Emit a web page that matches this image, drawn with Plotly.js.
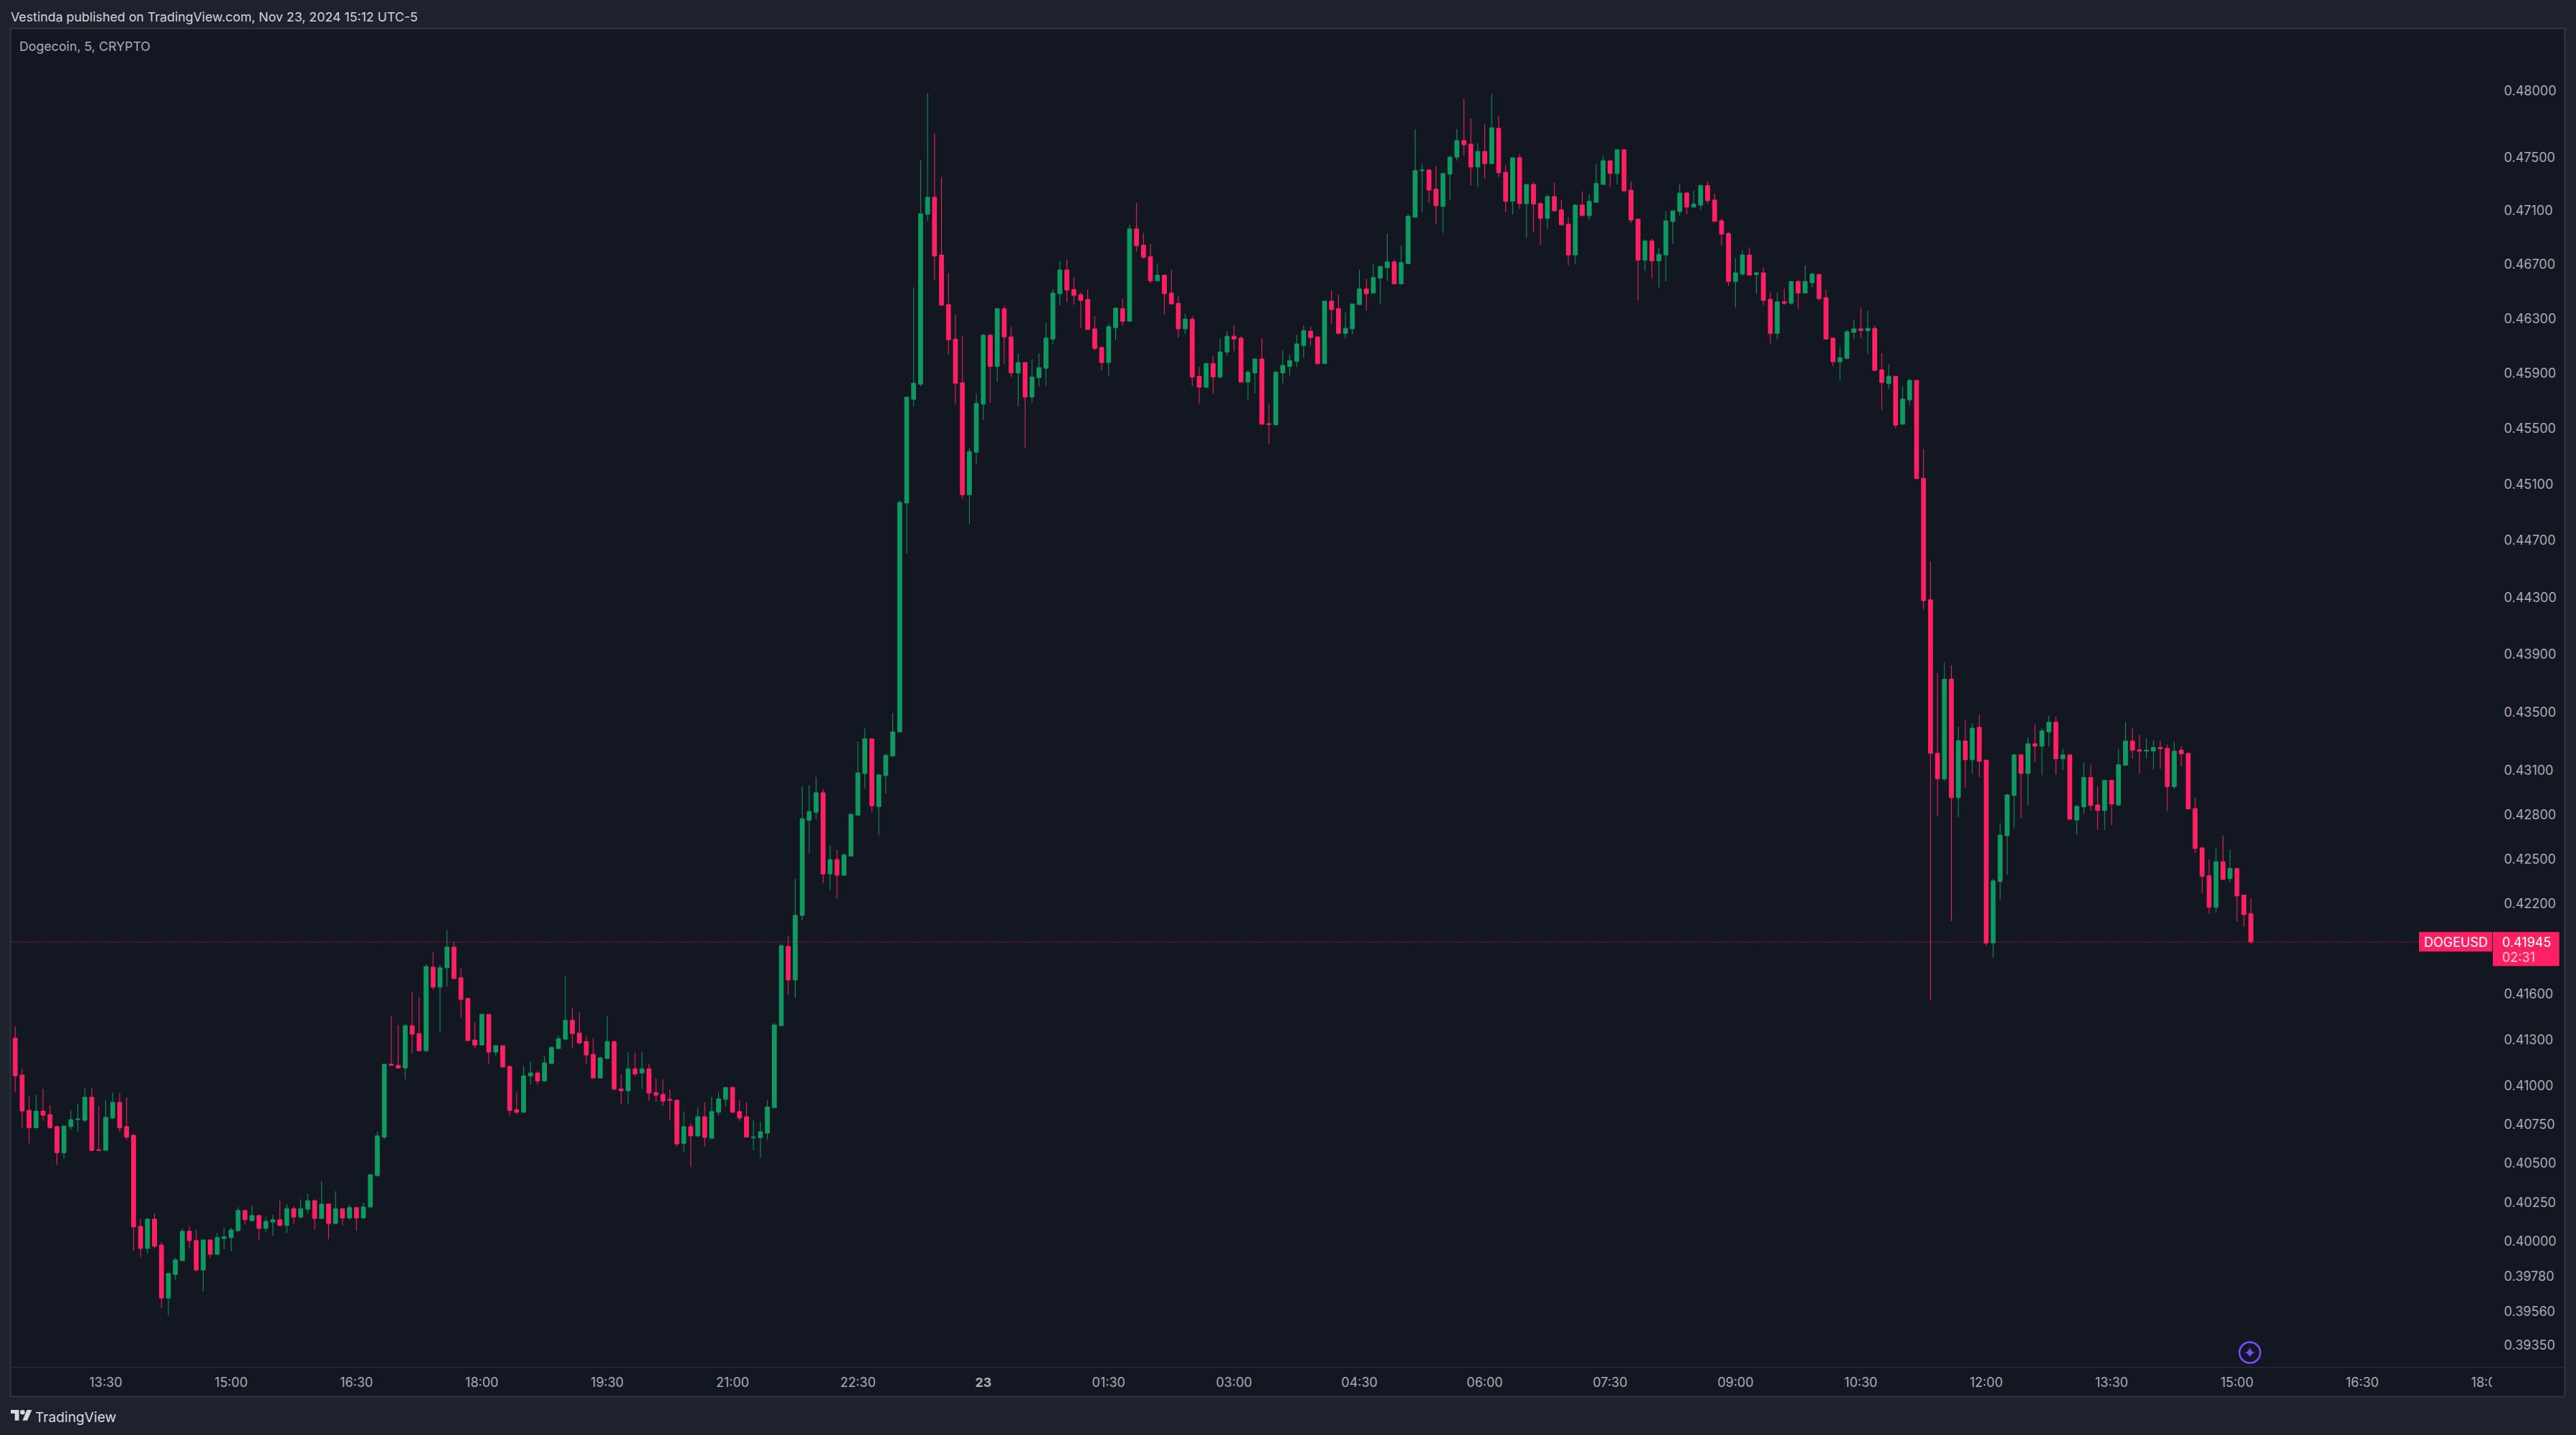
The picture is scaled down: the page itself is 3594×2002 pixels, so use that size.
<!DOCTYPE html>
<html>
<head>
<meta charset="utf-8">
<script src="https://cdn.plot.ly/plotly-3.0.1.min.js"></script>
<style>
html,body{margin:0;padding:0;background:#1e222d;width:3594px;height:2002px;overflow:hidden}
#chart{width:3594px;height:2002px}
#mask{position:absolute;left:3477px;top:1909px;width:100px;height:38px;background:#131722}
</style>
</head>
<body>
<div id="chart"></div>
<div id="mask"></div>
<script>
// Prices of each 5-minute candle in units of 0.00001 USD
const opens5 = [
41311,41069,40840,40728,40836,40813,40735,40567,40735,40780,
40776,40925,40586,40582,40791,40892,40735,40679,40096,39956,
40142,39978,39643,39792,39879,40065,40006,39820,40010,39919,
40019,40025,40069,40197,40132,40165,40083,40124,40138,40102,
40209,40155,40205,40260,40146,40238,40114,40209,40150,40216,
40150,40220,40420,40668,41140,41133,41115,41392,41340,41228,
41778,41646,41774,41911,41708,41571,41298,41265,41466,41219,
41261,41125,40844,40828,41064,41083,41031,41144,41242,41303,
41428,41344,41288,41204,41050,41177,41288,40979,40967,41110,
41083,41110,40956,40944,40911,40906,40627,40735,40675,40799,
40660,40828,40911,40989,40832,40799,40664,40664,40693,40858,
41392,41916,41693,42122,42762,42816,42949,42400,42496,42391,
42520,42796,43080,43317,42855,43066,43199,43365,44967,45712,
45821,47072,47200,46769,46403,46150,45832,45026,45330,45677,
46178,45951,46373,46166,45904,45979,45728,45869,45937,46150,
46483,46658,46514,46476,46441,46225,46089,45979,46234,46373,
46281,46964,46843,46757,46578,46620,46488,46413,46225,46297,
45879,45800,45972,45874,46056,46171,46157,45837,45904,46005,
45536,45527,45904,45951,45988,46103,46208,46166,45972,46429,
46373,46192,46225,46403,46519,46488,46599,46677,46719,46556,
46705,47050,47399,47404,47260,47131,47373,47501,47626,47599,
47426,47544,47452,47718,47387,47169,47496,47152,47296,47152,
47041,47205,47105,46998,46769,47141,47062,47162,47296,47474,
47378,47556,47253,47036,46731,46874,46726,46769,47019,47093,
47231,47126,47141,47287,47179,47024,46929,46573,46629,46769,
46625,46637,46441,46192,46424,46413,46573,46488,46566,46625,
46455,46157,45984,46009,46199,46225,46212,46229,45926,45826,
45879,45532,45707,45849,45144,44282,43218,43043,43729,42915,
43302,43174,43396,43171,41938,42350,42658,42931,43208,43080,
43283,43267,43365,43431,43180,43208,42763,42853,43052,42866,
42828,43033,42866,43136,43302,43242,43233,43233,43258,43252,
42990,43239,43217,42841,42575,42387,42176,42482,42368,42436,
42258,42133];
const highs5 = [
41386,41110,40931,40938,40979,40873,40743,40739,40840,40881,
40985,40985,40869,40906,40956,40952,40925,40687,40146,40150,
40179,39996,39802,39897,40083,40096,40073,40010,40014,40055,
40088,40088,40220,40201,40228,40169,40155,40169,40260,40238,
40224,40269,40305,40269,40383,40242,40320,40209,40234,40216,
40246,40426,40702,41144,41457,41397,41403,41613,41579,41797,
41878,41793,42026,41945,41769,41575,41415,41472,41466,41265,
41261,41129,40956,41129,41158,41096,41194,41256,41329,41716,
41510,41480,41329,41311,41190,41453,41288,41073,41219,41213,
41219,41144,41050,41041,40975,40906,40832,40757,40859,40892,
40929,40956,40989,40993,40906,40892,40776,40766,40906,41411,
41935,41983,42366,42994,42999,43056,42973,42593,42565,42539,
42811,43297,43389,43322,43075,43215,43494,44985,45728,46530,
47479,47985,47679,47351,46637,46330,46171,45356,45753,46187,
46192,46373,46394,46241,46047,45979,46005,46047,46272,46519,
46726,46736,46603,46493,46514,46319,46094,46262,46382,46446,
46993,47157,46933,46852,46705,46620,46658,46471,46335,46319,
45946,45979,46026,46157,46208,46250,46171,45921,46005,46157,
45682,45916,46068,46035,46183,46250,46241,46171,46429,46510,
46476,46344,46408,46658,46594,46705,46684,46929,46736,46843,
47074,47708,47452,47409,47431,47378,47508,47713,47941,47793,
47604,47749,47980,47814,47443,47496,47522,47296,47313,47162,
47222,47308,47179,47050,47148,47243,47222,47447,47513,47474,
47556,47561,47318,47036,46886,46891,46826,47093,47098,47296,
47239,47248,47296,47318,47227,47041,46938,46748,46805,46826,
46646,46677,46493,46493,46519,46578,46587,46693,46637,46629,
46514,46157,46094,46220,46293,46382,46360,46249,46046,45969,
45879,45806,45859,45849,45351,44553,43772,43842,43826,43400,
43444,43425,43485,43171,42368,42742,42940,43214,43208,43327,
43415,43390,43475,43469,43249,43208,42866,43155,43140,42993,
43033,43033,43249,43431,43390,43346,43321,43305,43305,43277,
43296,43267,43227,42915,42581,42498,42572,42658,42565,42436,
42258,42234];
const lows5 = [
40956,40728,40627,40728,40772,40724,40489,40530,40716,40702,
40762,40578,40582,40582,40784,40702,40650,39942,39897,39923,
39956,39580,39535,39756,39879,39956,39806,39685,39893,39915,
39952,39938,40059,40110,40128,40010,40059,40037,40096,40055,
40114,40146,40179,40077,40146,40014,40114,40102,40138,40069,
40150,40209,40420,40656,41133,41115,41042,41213,41223,41219,
41628,41349,41651,41697,41443,41294,41242,41265,41140,41194,
41121,40809,40813,40822,41008,41008,41023,41144,41238,41294,
41246,41269,41144,41050,41046,41177,40967,40878,40882,41064,
40979,40900,40896,40869,40780,40604,40567,40475,40666,40604,
40660,40805,40865,40822,40772,40668,40582,40534,40650,40858,
41392,41594,41575,42088,42539,42769,42337,42290,42232,42391,
42520,42796,42977,42816,42660,42943,43199,43365,44610,45661,
45807,47024,46582,46394,46040,45677,44996,44818,45241,45561,
45686,45837,45967,45874,45661,45360,45686,45807,45811,46115,
46399,46420,46403,46234,46220,46068,45921,45884,46140,46250,
46281,46795,46741,46561,46578,46330,46408,46161,46183,45807,
45682,45800,45753,45862,46026,46061,45837,45702,45753,45531,
45391,45527,45828,45884,45946,46014,46099,45963,45972,46262,
46187,46157,46183,46403,46361,46488,46408,46578,46556,46556,
46705,47050,47088,47157,46998,46933,47179,47474,47513,47287,
47275,47339,47452,47351,47088,47071,47114,46895,46938,46843,
46964,47098,46993,46693,46705,47062,47029,47162,47296,47275,
47296,47231,47007,46434,46651,46594,46530,46573,46852,47062,
47071,47126,47105,47148,47019,46838,46540,46382,46615,46620,
46483,46399,46119,46150,46399,46403,46373,46488,46530,46434,
46150,45951,45849,46009,46150,46157,46042,45916,45634,45786,
45502,45532,45667,45141,44212,41558,42788,43027,42084,42785,
42983,43077,43056,41917,41841,42228,42393,42711,42776,42866,
43158,43068,43267,43071,43105,42760,42661,42804,42828,42695,
42695,42729,42856,43136,43183,43077,43183,43105,43111,42822,
42974,43130,42838,42541,42270,42133,42139,42362,42344,42081,
42047,41932];
const closes5 = [
41064,40836,40728,40836,40809,40728,40567,40739,40780,40784,
40925,40582,40582,40795,40892,40728,40668,40092,39956,40142,
39970,39643,39798,39883,40065,40006,39820,40010,39919,40025,
40029,40073,40197,40138,40165,40083,40128,40138,40102,40209,
40155,40209,40260,40146,40238,40114,40209,40150,40216,40150,
40220,40426,40675,41140,41133,41115,41392,41336,41228,41782,
41646,41774,41911,41702,41565,41294,41265,41466,41219,41261,
41121,40840,40828,41064,41083,41031,41148,41250,41307,41428,
41340,41279,41200,41050,41181,41288,40979,40967,41110,41077,
41110,40952,40938,40900,40906,40623,40735,40675,40799,40666,
40832,40915,40989,40828,40791,40668,40668,40702,40862,41397,
41920,41693,42122,42772,42821,42949,42399,42496,42391,42527,
42802,43084,43317,42859,43071,43204,43365,44971,45728,45828,
47076,47200,46762,46399,46145,45828,45026,45335,45682,46178,
45951,46373,46166,45904,45979,45728,45874,45942,46157,46488,
46658,46510,46471,46434,46220,46082,45979,46241,46377,46281,
46964,46838,46753,46578,46620,46483,46408,46225,46297,45874,
45800,45972,45874,46056,46171,46150,45837,45909,46005,45531,
45531,45909,45958,45993,46115,46213,46161,45972,46429,46366,
46192,46229,46408,46519,46483,46603,46684,46719,46556,46714,
47057,47399,47404,47253,47136,47378,47501,47626,47594,47426,
47544,47452,47722,47383,47169,47496,47152,47296,47148,47041,
47205,47098,46993,46769,47141,47062,47169,47303,47474,47378,
47556,47248,47029,46731,46874,46726,46774,47024,47098,47231,
47126,47148,47287,47174,47019,46924,46573,46637,46769,46620,
46637,46434,46192,46424,46413,46573,46488,46573,46629,46446,
46150,45984,46014,46204,46225,46213,46229,45922,45833,45879,
45525,45714,45849,45141,44276,43218,43043,43729,42915,43305,
43174,43390,43164,41938,42353,42661,42934,43208,43080,43283,
43267,43371,43431,43180,43208,42769,42856,43052,42862,42828,
43033,42872,43140,43302,43239,43233,43239,43258,43249,42990,
43233,43214,42838,42572,42384,42176,42482,42362,42436,42252,
42127,41945];

const yTickVals = [0.48,0.475,0.471,0.467,0.463,0.459,0.455,0.451,0.447,0.443,0.439,0.435,0.431,0.428,0.425,0.422,0.416,0.413,0.41,0.4075,0.405,0.4025,0.4,0.3978,0.3956,0.3935];
const xTickVals = ['2024-11-22 13:30','2024-11-22 15:00','2024-11-22 16:30','2024-11-22 18:00','2024-11-22 19:30','2024-11-22 21:00','2024-11-22 22:30','2024-11-23 00:00','2024-11-23 01:30','2024-11-23 03:00','2024-11-23 04:30','2024-11-23 06:00','2024-11-23 07:30','2024-11-23 09:00','2024-11-23 10:30','2024-11-23 12:00','2024-11-23 13:30','2024-11-23 15:00','2024-11-23 16:30','2024-11-23 18:00'];
const xTickText = ['13:30','15:00','16:30','18:00','19:30','21:00','22:30','<b>23</b>','01:30','03:00','04:30','06:00','07:30','09:00','10:30','12:00','13:30','15:00','16:30','18:00'];
const lastPrice = 0.41945;
const headerText = 'Vestinda published on TradingView.com, Nov 23, 2024 15:12 UTC-5';
const symbolText = 'Dogecoin, 5, CRYPTO';

const UP = '#0f9960', DOWN = '#ff2064', BG = '#131722', OUTER = '#1e222d', FRAME = '#2a2e39', PURPLE = '#7a4dff';
const FONT = 'Inter, "Noto Sans", sans-serif';
const L = 16, R = 3477, T = 41, B = 1907;
const PX_PER_LN = 8803;
const px = x => (x - L) / (R - L);
const py = y => (B - y) / (B - T);
const t0 = Date.UTC(2024, 10, 22, 12, 25);
const times = opens5.map((_, i) => t0 + i * 300000);
const scale = a => a.map(v => v / 100000);

const trace = {
  type: 'candlestick', x: times, open: scale(opens5), high: scale(highs5), low: scale(lows5), close: scale(closes5),
  increasing: {line: {color: UP, width: 1}, fillcolor: UP},
  decreasing: {line: {color: DOWN, width: 1}, fillcolor: DOWN},
  whiskerwidth: 0, hoverinfo: 'skip', showlegend: false
};

const paperRect = (x0, y0, x1, y1, fill, line, layer) => ({type: 'rect', xref: 'paper', yref: 'paper', x0: px(x0), x1: px(x1), y0: py(y0), y1: py(y1), fillcolor: fill, line: line || {width: 0}, layer: layer || 'below'});
const pxPath = (ax, ay, path, fill) => ({type: 'path', xref: 'paper', yref: 'paper', xsizemode: 'pixel', ysizemode: 'pixel', xanchor: px(ax), yanchor: py(ay), path, fillcolor: fill, line: {width: 0}, layer: 'above'});
const pxCircle = (cx, cy, r, fill, line) => ({type: 'circle', xref: 'paper', yref: 'paper', xsizemode: 'pixel', ysizemode: 'pixel', xanchor: px(cx), yanchor: py(cy), x0: -r, x1: r, y0: -r, y1: r, fillcolor: fill, line, layer: 'above'});
const priceBox = (x0, x1, up, down) => ({type: 'rect', xref: 'paper', yref: 'y', x0: px(x0), x1: px(x1), y0: lastPrice * Math.exp(-down / PX_PER_LN), y1: lastPrice * Math.exp(up / PX_PER_LN), fillcolor: DOWN, line: {width: 0}, layer: 'above'});
const txt = (x, y, text, color, size, anchor) => ({xref: 'paper', yref: 'paper', x: px(x), y: py(y), text, showarrow: false, xanchor: anchor || 'left', yanchor: 'middle', font: {family: FONT, size: size || 17.8, color}, borderpad: 0});
const priceTxt = (x, text, color, shift) => ({xref: 'paper', yref: 'y', x: px(x), y: Math.log10(lastPrice), yshift: shift, text, showarrow: false, xanchor: 'left', yanchor: 'middle', font: {family: FONT, size: 18, color}, borderpad: 0});

const layout = {
  width: 3594, height: 2002,
  margin: {l: L, r: 3594 - R, t: T, b: 2002 - B, pad: 0},
  paper_bgcolor: OUTER, plot_bgcolor: BG,
  boxgap: 0.41, boxgroupgap: 0,
  showlegend: false, dragmode: false,
  xaxis: {
    type: 'date', range: [t0 - 160000, t0 + 1778.2 * 60000], rangeslider: {visible: false},
    tickmode: 'array', tickvals: xTickVals, ticktext: xTickText,
    tickfont: {family: FONT, size: 18, color: '#a9acb5'},
    ticks: 'outside', ticklen: 5, tickcolor: 'rgba(0,0,0,0)', tickwidth: 1,
    showgrid: false, zeroline: false, showline: false, automargin: false
  },
  yaxis: {
    type: 'log', side: 'right', range: [Math.log10(0.39213), Math.log10(0.48472)],
    tickmode: 'array', tickvals: yTickVals, ticktext: yTickVals.map(v => v.toFixed(5)),
    tickfont: {family: FONT, size: 18, color: '#a9acb5'},
    ticks: 'outside', ticklen: 12, tickcolor: 'rgba(0,0,0,0)', tickwidth: 1,
    showgrid: false, zeroline: false, showline: false, automargin: false
  },
  shapes: [
    paperRect(14.5, 39.5, 3578.5, 1948.5, BG, {color: FRAME, width: 3}),
    paperRect(16, B, 3577, B + 1, FRAME),
    {type: 'line', xref: 'paper', yref: 'y', x0: 0, x1: 1, y0: lastPrice, y1: lastPrice, line: {color: DOWN, width: 1, dash: '1px,2px'}, layer: 'above'},
    priceBox(3375, 3477, 13.8, 13.3),
    priceBox(3478, 3570.7, 13.8, 33.7),
    pxCircle(3139, 1887, 14.5, BG, {color: PURPLE, width: 2.5}),
    pxPath(3139, 1887, 'M0,7.5 Q1,1 7.5,0 Q1,-1 0,-7.5 Q-1,-1 -7.5,0 Q-1,1 0,7.5 Z', PURPLE),
    pxPath(15, 1967, 'M11.5,-14.8 H5.7 V-4.9 H0 V0 H11.5 Z', '#d7d9e0'),
    pxPath(15, 1967, 'M23,-14.8 H16.4 L22.55,0 H29.5 Z', '#d7d9e0'),
    pxCircle(31.4, 1970.3, 3.3, '#d7d9e0', {width: 0})
  ],
  annotations: [
    txt(14, 23, headerText, '#d1d4dc'),
    txt(26, 65, symbolText, '#a9acb5'),
    txt(48, 1977, 'TradingView', '#d7d9e0', 19.2),
    priceTxt(3381, 'DOGEUSD', '#ffffff', 0),
    priceTxt(3490, lastPrice.toFixed(5), '#ffffff', 0),
    priceTxt(3490, '02:31', 'rgba(255,255,255,0.75)', -21)
  ]
};
Plotly.newPlot('chart', [trace], layout, {displayModeBar: false, responsive: false});
</script>
</body>
</html>
